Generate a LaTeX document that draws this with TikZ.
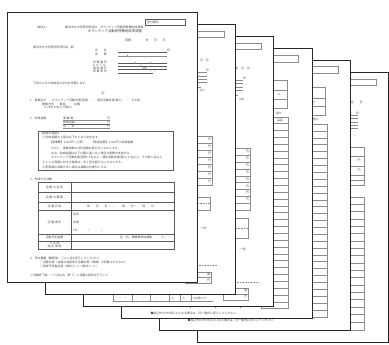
\documentclass[tikz,border=0pt]{standalone}
\usepackage{fontspec}
\newfontfamily\jp{Noto Sans CJK JP}
\tikzset{
  sheet/.style={draw=black!85, fill=white, line width=0.6pt},
  rl/.style={draw=black!45, line width=0.3pt},
  dk/.style={draw=black!65, line width=0.35pt},
  dsh/.style={draw=black!45, line width=0.3pt, dash pattern=on 0.8pt off 0.8pt},
  tx/.style={font=\jp\fontsize{2.9}{3.4}\selectfont, text=black!70, inner sep=0pt, anchor=west},
  ttl/.style={font=\jp\fontsize{3.4}{4}\selectfont, text=black!75, inner sep=0pt},
  lab/.style={font=\jp\fontsize{2.9}{3.4}\selectfont, text=black!70, inner sep=0pt, align=center},
}
\begin{document}
\begin{tikzpicture}[x=1pt,y=-1pt]
\useasboundingbox (0,0) rectangle (389,345);
\fill[white] (0,0) rectangle (389,345);

% ---------- sheet 6 (back) ----------
\begin{scope}[shift={(197.5,72.7)}]
\path[sheet] (0,0) rectangle (190.5,270);
\draw[rl] (138,6) rectangle (179,12.8);
\node[tx] (f1) at (140,9.4) {受付番号};
\node[tx] (f2) at (144.5,29.6) {年　　月　　日};
\node[tx] (f3) at (158.5,40.7) {印};
\foreach \yy in {42.5,45.6,49,52.6,55.6}{\draw[rl] (111,\yy) -- (160,\yy);}
\draw[rl] (111,60.6) -- (152,60.6);
\node[tx] (f4) at (150,62.5) {（　）};
\draw[rl] (140,74.3) rectangle (166.5,112.3);
\foreach \yy in {83,93,102,107}{\draw[rl] (140,\yy) -- (166.5,\yy);}
\node[tx] (f5) at (160,88) {円};
\node[tx] (f6) at (160,97.5) {円};
\draw[rl] (141,124) rectangle (166.5,257);
\foreach \k in {1,...,17}{\draw[rl] (141,124+7.35*\k) -- (166.5,124+7.35*\k);}
\end{scope}

% ---------- sheet 5 ----------
\begin{scope}[shift={(159.4,60.7)}]
\path[sheet] (0,0) rectangle (190.5,270);
\draw[rl] (138,5.5) rectangle (178.5,12.3);
\node[tx] (e1) at (140,9) {受付番号};
\draw[rl] (140,26.3) rectangle (165.6,54.3);
\draw[rl] (140,37.3) -- (165.6,37.3);
\draw[rl] (140,45.3) -- (165.6,45.3);
\node[tx] (e2) at (153,41.3) {小};
\node[tx] (e3) at (153,58.5) {施工};
\draw[rl] (140,63.3) rectangle (167.5,256);
\foreach \k in {1,...,27}{\draw[rl] (140,63.3+6.88*\k) -- (167.5,63.3+6.88*\k);}
\node[tx] (e4) at (28,260) {●振込先が2か所以上になる場合は、同一書式に記入してください。};
\end{scope}

% ---------- sheet 4 ----------
\begin{scope}[shift={(121.3,48.7)}]
\path[sheet] (0,0) rectangle (190.5,270);
\draw[rl] (138,6.3) rectangle (177,13.3);
\node[tx] (d1) at (140,9.8) {受付番号};
\draw[rl] (140,31.3) rectangle (166,59.3);
\draw[rl] (140,41.3) -- (166,41.3);
\draw[rl] (140,50.3) -- (166,50.3);
\node[tx] (d2) at (156,46) {ル};
\node[tx] (d3) at (154,65) {合計};
\draw[rl] (140,68) rectangle (167,259.6);
\foreach \k in {1,...,27}{\draw[rl] (140,68+6.85*\k) -- (167,68+6.85*\k);}
\node[tx] (d4) at (155.5,71.4) {品目};
\foreach \xx in {69,94,119}{\draw[rl] (\xx,256) -- (\xx,259.6);}
\node[tx] (d5) at (29,264.5) {●振込先が2か所以上になる場合は、同一書式に記入してください。};
\end{scope}

% ---------- sheet 3 ----------
\begin{scope}[shift={(83.2,36.7)}]
\path[sheet] (0,0) rectangle (190.5,270);
\draw[rl] (138,6) rectangle (178,12.3);
\node[tx] (c1) at (140,9.2) {受付番号};
\node[tx] (c2) at (152,31.6) {年　月　日};
\node[tx] (c3) at (160,42) {印};
\foreach \yy in {43.3,46.6,50,53.3}{\draw[rl] (111,\yy) -- (160,\yy);}
\draw[rl] (111,58.6) -- (155,58.6);
\node[tx] (c4) at (154,62.3) {（内）};
\draw[rl] (130,111.6) rectangle (166.8,173.3);
\foreach \k in {1,...,8}{\draw[rl] (130,111.6+6.85*\k) -- (166.8,111.6+6.85*\k);}
\foreach \k in {1,...,8}{\node[tx] (c5\k) at (162.5,108.2+6.85*\k) {円};}
\draw[rl] (140,181) rectangle (165,201);
\draw[dsh] (140,191) -- (165,191);
\node[tx] (c6) at (156,213) {一式）};
\draw[dsh] (120,245) -- (175,245);
\draw[rl] (140,251) rectangle (165,263);
\draw[rl] (140,257) -- (165,257);
\node[tx] (c7) at (161,254) {額};
\node[tx] (c8) at (161,260) {円};
\draw[rl] (30,264.5) -- (130,264.5);
\foreach \xx in {30,49,67,86,97,108}{\draw[rl] (\xx,258) -- (\xx,264.5);}
\node[tx] (c9) at (35,261.5) {／　／};
\node[tx] (c10) at (53,261.5) {／　／};
\node[tx] (c11) at (72,261.5) {／　／};
\node[tx] (c12) at (88,261.5) {人};
\node[tx] (c13) at (99,261.5) {人};
\node[tx] (c14) at (110,261.5) {Xを除いて};
\end{scope}

% ---------- sheet 2 ----------
\begin{scope}[shift={(45.1,24.7)}]
\path[sheet] (0,0) rectangle (190.5,270);
\draw[rl] (138,6) rectangle (179,12.3);
\node[tx] (b1) at (140,9.2) {受付番号};
\node[tx] (b2) at (149,36) {年　月　日};
\node[tx] (b3) at (160.5,45.7) {印};
\foreach \yy in {47,51.3,54.3,57}{\draw[rl] (111,\yy) -- (162,\yy);}
\draw[rl] (111,62.6) -- (156,62.6);
\node[tx] (b4) at (152.5,66) {（内）};
\draw[rl] (130,111) rectangle (167,160.5);
\foreach \k in {1,...,6}{\draw[rl] (130,111+7.07*\k) -- (167,111+7.07*\k);}
\foreach \k in {1,...,7}{\node[tx] (b5\k) at (162.8,107.5+7.07*\k) {円};}
\draw[rl] (140,172) rectangle (165,185.3);
\draw[dsh] (140,178.6) -- (165,178.6);
\node[tx] (b6) at (155,203.6) {一式）};
\draw[dsh] (120,240.3) -- (172,240.3);
\draw[rl] (140,247) rectangle (166,258);
\draw[rl] (140,252.5) -- (166,252.5);
\node[tx] (b7) at (162,249.8) {額};
\node[tx] (b8) at (162,255.3) {円};
\end{scope}

% ---------- sheet 1 (front) ----------
\begin{scope}[shift={(7,12.7)}]
\path[sheet] (0,0) rectangle (190.5,270);
\node[tx] (a1) at (28,14.5) {（様式1）};
\node[tx] (a2) at (58,14.5) {横浜市立大学医学研究科　ボランティア活動研修費助成事業};
\node[ttl] (a3) at (108,18.8) {ボランティア活動研修費助成申請書};
\draw[dk] (138,6) rectangle (178,12.3);
\node[tx] (a4) at (140,9.2) {受付番号};
\node[tx] (a5) at (118,27.5) {西暦　　　　　年　　月　　日};
\node[tx] (a6) at (26,34.5) {横浜市立大学医学研究科長　殿};
% applicant block
\node[tx] (a7) at (88,38) {氏　　名};
\node[tx] (a8) at (88,41.5) {所　　属};
\node[tx] (a9) at (86,49.3) {学 籍 番 号};
\node[tx] (a10) at (86,52.3) {E メ ー ル};
\node[tx] (a11) at (86,55.6) {電 話 番 号};
\node[tx] (a12) at (86,58.8) {卒 業 年 次};
\node[tx] (a13) at (160,38) {印};
\draw[dk] (111,39.6) -- (160,39.6);
\draw[rl] (111,43) -- (160,43);
\draw[rl] (120,42) -- (120,44);
\draw[dk] (111,50.6) -- (160,50.6);
\draw[rl] (128,49.6) -- (128,51.6);
\draw[rl] (143,49.6) -- (143,51.6);
\draw[dk] (111,53.6) -- (160,53.6);
\draw[rl] (133,52.6) -- (133,54.6);
\draw[dk] (111,56.9) -- (160,56.9);
\node[tx] (a14) at (133,55.6) {（内）};
\node[tx] (a15) at (152,55.6) {（　）};
\draw[dk] (111,60.1) -- (146,60.1);
\node[tx] (a16) at (141,58.8) {（　）};
\node[tx] (a17) at (26,70.3) {下記のとおり助成金の交付を申請します。};
\node[lab] (a18) at (96,80.5) {記};
% item 1
\node[tx] (a19) at (23,87.5) {1．事業区分　　ボランティア活動支援(団体)　・　個別活動支援(個人)　・　その他};
\node[tx] (a20) at (35,91.3) {開催方法　　単独　・　共催};
\node[tx] (a21) at (35,94.8) {（いずれかを〇で囲む）};
% item 2
\node[tx] (a22) at (23,105.3) {2．申請金額};
\node[tx] (a23) at (56,105.3) {事 業 費：};
\node[tx] (a24) at (56,109.3) {助成金額：};
\node[tx] (a25) at (56,113.3) {合　　計：};
\foreach \yy in {105.3,109.3,113.3}{\node[tx] at (100,\yy) {円};}
\draw[rl] (56,107.2) -- (103,107.2);
\draw[dk] (56,111.2) -- (103,111.2);
\draw[rl] (56,115.2) -- (103,115.2);
% criteria box
\draw[dk] (31,118.5) rectangle (166,157.5);
\node[tx] (a26) at (33,120.7) {【助成の基準】};
\node[tx] (a27) at (35,124.5) {① 助成金額の上限は以下のとおり定めます。};
\node[tx] (a28) at (42,130.3) {【事業費】1,000円（上限）　　【助成金額】1,000円×助成者数};
\node[tx] (a29) at (44,135.3) {ただし、事業件数の合計金額を超えないものとする。};
\node[tx] (a30) at (44,140.3) {なお、助成金額は以下の額に達しない場合は実費を支給する。};
\node[tx] (a31) at (44,145.3) {ボランティア活動支援(団体)１名以上、個別活動支援(個人)１名以上、その他１名以上};
\node[tx] (a32) at (35,149.6) {② １人の同額に対する助成は、年１回を超えないものとする。};
\node[tx] (a33) at (35,154.3) {③ 配信額の余剰がない場合は減額の対象外とする。};
% item 3 table
\node[tx] (a34) at (23,166.8) {3．申請する活動};
\draw[dk] (31,169.3) rectangle (167,236.3);
\draw[dk] (64,169.3) -- (64,236.3);
\foreach \yy in {179.3,189.3,197.3,221.3,228.3}{\draw[dk] (31,\yy) -- (167,\yy);}
\node[lab] (a35) at (47.5,174.3) {活 動 の 名 称};
\node[lab] (a36) at (47.5,184.3) {活 動 の 概 要};
\node[lab] (a37) at (47.5,193.3) {活 動 日 時};
\node[lab] (a38) at (47.5,209.3) {活 動 場 所};
\node[lab] (a39) at (47.5,224.8) {活動予定者数};
\node[lab] (a40) at (47.5,232.3) {そ の 他\\特 記 事 項};
\node[tx] (a41) at (80,193.3) {年　　月　　日（　）　　時　　分～　　時　　分};
\node[tx] (a42) at (66,201.5) {住所};
\node[tx] (a43) at (66,209.5) {会場};
\node[tx] (a44) at (66,217.5) {TEL　　　（　　　　）};
\node[tx] (a45) at (113,224.8) {名（内、教職員参加者数　　　人）};
% item 4
\node[tx] (a46) at (23,245.3) {4．添付書類（確認後、□にレ点を記入してください）};
\node[tx] (a47) at (33,249.3) {□活動内容（会場の地図及び活動計画（詳細）が記載されたもの）};
\node[tx] (a48) at (33,253.3) {□助成予定者名簿（様式２−１～様式２−２）};
\node[tx] (a49) at (23,262.3) {※活動終了後、一ヶ月以内（終了）に活動の報告を行うこと};
\end{scope}
\end{tikzpicture}
\end{document}
